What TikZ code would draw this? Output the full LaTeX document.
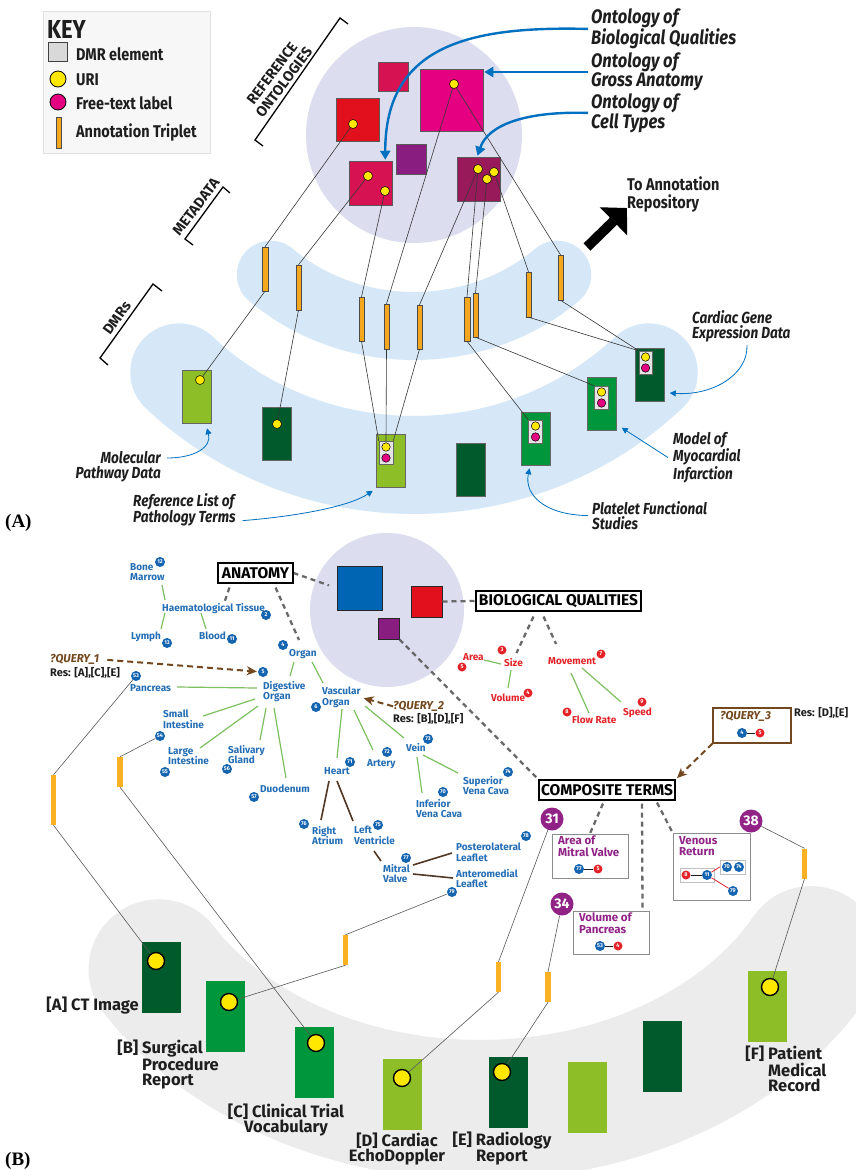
\documentclass[tikz,border=0pt]{standalone}
\usepackage{fontspec}
\setmainfont{Fira Sans}
\newfontfamily\cf[FakeStretch=0.85]{Fira Sans}
\newfontfamily\tms{Liberation Serif}
\usetikzlibrary{arrows.meta,calc}
\pgfdeclarelayer{bg}
\pgfdeclarelayer{ln}
\pgfsetlayers{bg,ln,main}
\newcommand{\fsz}[2]{\fontsize{#1}{#2}\selectfont}
\definecolor{lav}{RGB}{220,221,238}
\definecolor{lblue}{RGB}{214,232,247}
\definecolor{gband}{RGB}{236,236,236}
\definecolor{orng}{RGB}{245,168,30}
\definecolor{orngb}{RGB}{250,178,36}
\definecolor{ybl}{RGB}{255,232,0}
\definecolor{mag}{RGB}{228,0,128}
\definecolor{crim}{RGB}{214,18,82}
\definecolor{ored}{RGB}{226,16,28}
\definecolor{purp}{RGB}{138,30,128}
\definecolor{dmag}{RGB}{152,26,90}
\definecolor{lgreen}{RGB}{141,190,40}
\definecolor{dgreen}{RGB}{0,90,44}
\definecolor{mgreen}{RGB}{0,150,60}
\definecolor{arrblue}{RGB}{0,112,192}
\definecolor{anblue}{RGB}{36,110,182}
\definecolor{numblue}{RGB}{20,100,176}
\definecolor{qred}{RGB}{228,35,40}
\definecolor{tgreen}{RGB}{125,192,95}
\definecolor{tbrown}{RGB}{80,56,36}
\definecolor{qbrown}{RGB}{115,72,30}
\definecolor{dgray}{RGB}{105,105,105}
\definecolor{lnk}{RGB}{55,55,55}
\definecolor{txt}{RGB}{30,30,30}
\definecolor{bsqc}{RGB}{0,102,180}
\definecolor{cpurp}{RGB}{145,35,135}
\begin{document}
\begin{tikzpicture}[x=1pt,y=-1pt,
 sq/.style={draw=black!65,line width=0.5pt,inner sep=0pt},
 trip/.style={draw=black!70,line width=0.4pt,fill=orng,minimum width=5.5pt,inner sep=0pt},
 tripb/.style={fill=orngb,minimum width=5.5pt,minimum height=30pt,inner sep=0pt},
 dmr/.style={draw=black!60,line width=0.5pt,minimum width=29pt,minimum height=53pt,inner sep=0pt},
 dmrb/.style={minimum width=39pt,minimum height=71pt,inner sep=0pt},
 uri/.style={circle,draw=black,line width=0.5pt,fill=ybl,minimum size=9pt,inner sep=0pt},
 ftl/.style={circle,draw=black,line width=0.5pt,fill=mag,minimum size=9pt,inner sep=0pt},
 inbox/.style={draw=black!60,fill=black!10,line width=0.5pt,minimum width=14pt,minimum height=23pt,inner sep=0pt},
 urib/.style={circle,draw=black,line width=1.4pt,fill=ybl,minimum size=17pt,inner sep=0pt},
 lk/.style={draw=lnk,line width=0.6pt},
 lkb/.style={draw=black!65,line width=0.6pt},
 oarr/.style={draw=arrblue,line width=2.4pt,-{Triangle[length=9pt,width=10pt]}},
 larr/.style={draw=arrblue,line width=0.8pt,-{Triangle[length=6pt,width=6pt]}},
 keyl/.style={font={\cf\fsz{17}{17}\bfseries},anchor=west,inner sep=0pt,text=txt},
 ontl/.style={font={\cf\fsz{19.5}{18}\bfseries\itshape},align=left,anchor=west,inner sep=0pt,text=txt},
 itl/.style={font={\cf\fsz{16}{15.5}\bfseries\itshape},inner sep=0pt,text=txt},
 brk/.style={font={\fsz{14.5}{15}\bfseries},align=center,inner sep=0pt,text=txt},
 hbox/.style={draw=black,line width=1.1pt,fill=white,font={\fsz{15.5}{16}\bfseries},inner sep=0pt,minimum height=20pt},
 tb/.style={font={\fsz{10}{10.5}\bfseries},text=anblue,inner sep=0pt,align=left,anchor=north west},
 tr/.style={font={\fsz{10}{10.5}\bfseries},text=qred,inner sep=0pt,align=left,anchor=north west},
 nb/.style={circle,fill=numblue,text=white,inner sep=0pt,minimum size=10pt,font={\fsz{5.5}{5.5}\bfseries}},
 nr/.style={circle,fill=qred,text=white,inner sep=0pt,minimum size=9pt,font={\fsz{5.5}{5.5}\bfseries}},
 tg/.style={draw=tgreen,line width=1.2pt},
 tbr/.style={draw=tbrown,line width=1.6pt},
 dsh/.style={draw=dgray,line width=2.3pt,dash pattern=on 5pt off 4pt},
 qarr/.style={draw=qbrown,line width=2pt,dash pattern=on 6pt off 4pt,-{Stealth[length=10pt,width=9pt,inset=3pt]}},
 qt/.style={font={\fsz{11.5}{12}\bfseries\itshape},text=qbrown,inner sep=0pt,anchor=north west},
 rs/.style={font={\fsz{11}{12}\bfseries},text=txt,inner sep=0pt,anchor=north west},
 cpt/.style={font={\fsz{11.5}{11.5}\bfseries},text=cpurp,align=left,inner sep=0pt,anchor=north west},
 cbox/.style={draw=black!45,line width=1pt,fill=white,inner sep=0pt},
 bigc/.style={circle,fill=cpurp,text=white,font={\fsz{14}{14}\bfseries},minimum size=23pt,inner sep=0pt},
 elab/.style={font={\fsz{16.5}{15}\bfseries},text=txt,inner sep=0pt},
]
\useasboundingbox (0,0) rectangle (855,1170);

\begin{pgfonlayer}{bg}
\fill[white] (0,0) rectangle (855,1170);
% ---------- panel A backgrounds
\draw[lblue,line width=98pt,line cap=round] plot[domain=46:134,samples=90] ({414+338*cos(\x)},{135+330*sin(\x)});
\draw[lblue,line width=68pt,line cap=round] plot[domain=47:133,samples=70] ({414+210*cos(\x)},{135+191*sin(\x)});
\fill[lav] (414,135) circle[radius=108pt];
% ---------- panel B backgrounds
\draw[gband,line width=140pt,line cap=round] plot[domain=28:149,samples=90] ({480+375*cos(\x)},{820+290*sin(\x)});
\fill[lav] (387,610) circle[radius=77pt];
% ontology squares A
\node[sq,fill=crim,minimum width=30pt,minimum height=29pt] (s1) at (393,76.5) {};
\node[sq,fill=mag,minimum width=63pt,minimum height=62pt] (s2) at (451.5,100) {};
\node[sq,fill=ored,minimum size=43pt] (s3) at (357.5,119.5) {};
\node[sq,fill=purp,minimum size=30pt] (s4) at (411,159) {};
\node[sq,fill=crim,minimum width=43pt,minimum height=44pt] (s5) at (370.5,183) {};
\node[sq,fill=dmag,minimum width=43pt,minimum height=44pt] (s6) at (478.5,179) {};
% triplets A
\node[trip,minimum height=44pt] (t1) at (265,269) {};
\node[trip,minimum height=45pt] (t2) at (298.5,287.5) {};
\node[trip,minimum height=44pt] (t3) at (361.5,319) {};
\node[trip,minimum height=45pt] (t4) at (386.5,326.5) {};
\node[trip,minimum height=44pt] (t5) at (419.5,327) {};
\node[trip,minimum height=44pt] (t6) at (467,319) {};
\node[trip,minimum height=44pt] (t7) at (475.5,315) {};
\node[trip,minimum height=45pt] (t8) at (528.5,294.5) {};
\node[trip,minimum height=45pt] (t9) at (560.5,277.5) {};
% DMR elements A
\node[dmr,fill=lgreen] (d1) at (197,396.5) {};
\node[dmr,fill=dgreen] (d2) at (276.5,434) {};
\node[dmr,fill=lgreen] (d3) at (390.5,461) {};
\node[dmr,fill=dgreen] (d4) at (470.5,470) {};
\node[dmr,fill=mgreen] (d5) at (535.5,438.5) {};
\node[dmr,fill=mgreen] (d6) at (602,404) {};
\node[dmr,fill=dgreen] (d7) at (650,375) {};
\node[inbox] (d3in) at (386,452.5) {};
\node[inbox] (d5in) at (535.5,431.5) {};
\node[inbox] (d6in) at (601.5,397.5) {};
\node[inbox,minimum width=13pt] (d7in) at (645.5,362.5) {};
% squares B
\node[sq,fill=bsqc,draw=black!85,line width=1pt,minimum width=45pt,minimum height=44pt] (bsq) at (359.5,588) {};
\node[sq,fill=ored,draw=black!85,line width=1pt,minimum size=31pt] (rsq) at (426.5,601.5) {};
\node[sq,fill=purp,draw=black!85,line width=1pt,minimum size=21pt] (psq) at (388.5,628.5) {};
% elements B
\node[dmrb,fill=dgreen] (eA) at (161.5,977) {};
\node[dmrb,fill=mgreen] (eB) at (225.5,1016) {};
\node[dmrb,fill=mgreen] (eC) at (314.5,1062.5) {};
\node[dmrb,fill=lgreen] (eD) at (402.5,1094) {};
\node[dmrb,fill=dgreen] (eE) at (508.5,1092.5) {};
\node[dmrb,fill=lgreen] (eX) at (587.5,1097.5) {};
\node[dmrb,fill=dgreen] (eY) at (662,1056.5) {};
\node[dmrb,fill=lgreen] (eF) at (767.5,1006.5) {};
% triplets B
\node[tripb,minimum height=50pt] (tb1) at (53.5,800) {};
\node[tripb] (tb2) at (120,772) {};
\node[tripb] (tb3) at (345.5,950) {};
\node[tripb] (tb4) at (498.5,977) {};
\node[tripb] (tb5) at (548,987) {};
\node[tripb] (tb6) at (804.5,863.5) {};
\end{pgfonlayer}

% ================= PANEL A =================
% key
\node[draw=black!12,fill=black!3,line width=0.8pt,minimum width=167pt,minimum height=142pt,inner sep=0pt,anchor=north west] (keybox) at (43,11) {};
\node[font={\cf\fsz{26}{26}\bfseries},inner sep=0pt,anchor=west,text=txt] (keyt) at (47,29) {KEY};
\node[sq,fill=black!15,draw=black!75,line width=0.8pt,minimum size=19pt] (kdmr) at (58,52) {};
\node[keyl] (kdmrt) at (76,54) {DMR element};
\node[uri,minimum size=16pt,line width=0.8pt] (kuri) at (58,79) {};
\node[keyl] (kurit) at (76,80) {URI};
\node[ftl,minimum size=16pt,line width=0.8pt] (kftl) at (58,102) {};
\node[keyl] (kftlt) at (76,103) {Free-text label};
\node[trip,minimum height=31pt] (ktrip) at (58.5,132.5) {};
\node[keyl] (ktript) at (76,132) {Annotation Triplet};

% brackets
\draw[line width=1.3pt] (263,146) -- (255,140) -- (340,18) -- (348,24);
\node[brk,rotate=53] (refo) at (278,78) {REFERENCE\\ONTOLOGIES};
\draw[line width=1.3pt] (193,245) -- (185,239) -- (223,187) -- (230,193);
\node[brk,rotate=53] (meta) at (196,207) {METADATA};
\draw[line width=1.3pt] (108,365) -- (100,358) -- (153,284) -- (162,291);
\node[brk,rotate=54] (dmrs) at (117,318) {DMRs};

% dots A
\node[uri] (s2d) at (454,84) {};
\node[uri] (s3d) at (353,124) {};
\node[uri] (s5a) at (368,176) {};
\node[uri] (s5b) at (385,191) {};
\node[uri] (s6a) at (478,169) {};
\node[uri] (s6b) at (494,172) {};
\node[uri] (s6c) at (487,179) {};
\node[uri] (d1d) at (200,380) {};
\node[uri] (d2d) at (277,424) {};
\node[uri,minimum size=8.5pt] (d3y) at (386,447) {};
\node[ftl,minimum size=8.5pt] (d3m) at (386,458) {};
\node[uri,minimum size=8.5pt] (d5y) at (535.5,426) {};
\node[ftl,minimum size=8.5pt] (d5m) at (535.5,437) {};
\node[uri,minimum size=8.5pt] (d6y) at (601.5,392) {};
\node[ftl,minimum size=8.5pt] (d6m) at (601.5,403) {};
\node[uri,minimum size=8.5pt] (d7y) at (645.5,357) {};
\node[ftl,minimum size=8.5pt] (d7m) at (645.5,368) {};

% ontology labels and arrows
\node[ontl] (obq) at (591,29) {Ontology of\\Biological Qualities};
\node[ontl] (oga) at (591,72) {Ontology of\\Gross Anatomy};
\node[ontl] (oct) at (591,113) {Ontology of\\Cell Types};
\draw[oarr,shorten <=3pt] (obq.west) .. controls (470,26) and (385,45) .. ($(s5.north east)+(-7,-1)$);
\draw[oarr,shorten <=3pt,shorten >=1pt] (oga.west) -- (s2.east |- oga.west);
\draw[oarr,shorten <=3pt] (oct.west) .. controls (525,111) and (488,125) .. ($(s6.north)+(-1,-1)$);

% to annotation repository
\node[font={\cf\fsz{17}{18}\bfseries},align=left,anchor=north west,inner sep=0pt,text=txt] (tar) at (627,177) {To Annotation\\Repository};
\coordinate (repS) at (587,247);
\coordinate (repE) at (627,208);
\draw[line width=10pt,-{Triangle[length=19pt,width=38pt]}] (repS) -- (repE);

% labels of DMRs A
\node[itl,anchor=north east,align=right] (mol) at (161,451) {Molecular\\Pathway Data};
\node[itl,anchor=north west,align=left] (refl) at (133,493) {Reference List of\\Pathology Terms};
\node[itl,anchor=north west,align=left] (cge) at (692,310) {Cardiac Gene\\Expression Data};
\node[itl,anchor=north west,align=left] (mmi) at (673,432) {Model of\\Myocardial\\Infarction};
\node[itl,anchor=north west,align=left] (pfs) at (592,501) {Platelet Functional\\Studies};
\draw[larr] ($(mol.north east)+(6,7)$) .. controls (195,458) and (212,447) .. ($(d1.south)+(10,5)$);
\draw[larr] ($(refl.south east)+(7,-6)$) .. controls (300,516) and (350,506) .. ($(d3.south west)+(-3,3)$);
\draw[larr] ($(cge.south west)+(55,3)$) .. controls (748,375) and (712,396) .. ($(d7.east)+(5,18)$);
\draw[larr] ($(mmi.west)+(-5,0)$) -- ($(d6.south east)+(5,-3)$);
\draw[larr] ($(pfs.west)+(-4,0)$) .. controls (545,515) and (524,495) .. ($(d5.south)+(-6,3)$);

\node[font={\tms\fsz{19}{19}\bfseries},anchor=west,inner sep=0pt] (labA) at (5,523) {(A)};

% ================= PANEL B =================
\node[hbox,minimum width=75pt] (anat) at (255.5,573) {ANATOMY};
\node[hbox,minimum width=165pt] (bq) at (558.5,601) {BIOLOGICAL QUALITIES};
\node[hbox,minimum width=136pt] (comp) at (607,790) {COMPOSITE TERMS};

% anatomy tree
\node[tb] (bm) at (130,563) {Bone\\Marrow};
\node[tb] (haem) at (162,603) {Haematological Tissue};
\node[tb] (lymph) at (131,632) {Lymph};
\node[tb] (blood) at (199,632) {Blood};
\node[tb] (organ) at (289,649) {Organ};
\node[tb] (dig) at (263,681) {Digestive\\Organ};
\node[tb] (vasc) at (322,687) {Vascular\\Organ};
\node[tb] (panc) at (130,684) {Pancreas};
\node[tb] (si) at (163,710) {Small\\Intestine};
\node[tb] (li) at (168,747) {Large\\Intestine};
\node[tb] (sg) at (228,745) {Salivary\\Gland};
\node[tb] (duo) at (260,785) {Duodenum};
\node[tb] (heart) at (324,767) {Heart};
\node[tb] (artery) at (367,759) {Artery};
\node[tb] (vein) at (406,743) {Vein};
\node[tb] (svc) at (463,776) {Superior\\Vena Cava};
\node[tb] (ivc) at (416,799) {Inferior\\Vena Cava};
\node[tb] (ra) at (312,826) {Right\\Atrium};
\node[tb] (lv) at (354,826) {Left\\Ventricle};
\node[tb] (mv) at (383,864) {Mitral\\Valve};
\node[tb] (pl) at (456,843) {Posterolateral\\Leaflet};
\node[tb] (am) at (456,869) {Anteromedial\\Leaflet};
\node[nb] (n12) at (160,562) {12};
\node[nb] (n2) at (266,615) {2};
\node[nb] (n13) at (167,643) {13};
\node[nb] (n11) at (232,639) {11};
\node[nb] (n4) at (283,645) {4};
\node[nb] (n5) at (263,672) {5};
\node[nb] (n6) at (316,707) {6};
\node[nb] (n53) at (136,676) {53};
\node[nb] (n54) at (160,736) {54};
\node[nb] (n55) at (165,772) {55};
\node[nb] (n56) at (227,769) {56};
\node[nb] (n57) at (254,797) {57};
\node[nb] (n71) at (350,762) {71};
\node[nb] (n72) at (387,752) {72};
\node[nb] (n73) at (428,739) {73};
\node[nb] (n74) at (508,772) {74};
\node[nb] (n70) at (443,792) {70};
\node[nb] (n76) at (304,824) {76};
\node[nb] (n75) at (378,825) {75};
\node[nb] (n77) at (406,858) {77};
\node[nb] (n78) at (526,836) {78};
\node[nb] (n79) at (452,892) {79};

% qualities tree
\node[tr] (area) at (463,653) {Area};
\node[tr] (size) at (504,658) {Size};
\node[tr] (volume) at (491,694) {Volume};
\node[tr] (movement) at (548,657) {Movement};
\node[tr] (flow) at (572,716) {Flow Rate};
\node[tr] (speed) at (623,708) {Speed};
\node[nr] (r3) at (502,650) {3};
\node[nr] (r5) at (462,667) {5};
\node[nr] (r4) at (528,693) {4};
\node[nr] (r7) at (601,654) {7};
\node[nr] (r8) at (567,712) {8};
\node[nr] (r9) at (642,702) {9};

% queries
\node[qt] (q1) at (50,654) {?QUERY\_1};
\node[rs] (q1r) at (50,667) {Res: [A],[C],[E]};
\node[qt] (q2) at (393,701) {?QUERY\_2};
\node[rs] (q2r) at (393,713) {Res: [B],[D],[F]};
\node[draw=qbrown,line width=1.2pt,fill=white,minimum width=78pt,minimum height=35pt,inner sep=0pt] (q3) at (752,725.5) {};
\node[qt] (q3t) at (720,711) {?QUERY\_3};
\node[nb] (q3a) at (742,733) {4};
\node[nr] (q3b) at (760,733) {5};
\draw[line width=1pt,draw=txt] (q3a) -- (q3b);
\node[rs] (q3r) at (794,707) {Res: [D],[E]};
\draw[qarr,shorten <=8pt,shorten >=1pt] (q1.east) -- (n5);
\draw[qarr,shorten >=3pt] (q2.west) -- (vasc.east);
\draw[qarr,shorten >=2pt] (q3.south west) -- (comp.north east);

% composite terms
\node[bigc] (c31) at (552,819) {31};
\node[bigc] (c34) at (562,904) {34};
\node[bigc] (c38) at (751,821) {38};
\node[cbox,minimum width=76pt,minimum height=44pt] (amv) at (590,856) {};
\node[cpt] (amvt) at (558,836) {Area of\\Mitral Valve};
\node[nb] (a77) at (579,869) {77};
\node[nr] (a5) at (598,869) {5};
\draw[line width=1pt,draw=txt] (a77) -- (a5);
\node[cbox,minimum width=76pt,minimum height=43pt] (vp) at (611,932.5) {};
\node[cpt] (vpt) at (579,913) {Volume of\\Pancreas};
\node[nb] (v53) at (600,946) {53};
\node[nr] (v4) at (618,946) {4};
\draw[line width=1pt,draw=txt] (v53) -- (v4);
\node[cbox,minimum width=77pt,minimum height=67pt] (vr) at (711.5,866.5) {};
\node[cpt] (vrt) at (679,836) {Venous\\Return};
\node[draw=black!25,line width=0.6pt,minimum width=34pt,minimum height=14pt,inner sep=0pt] (vrb1) at (697,875) {};
\node[draw=black!25,line width=0.6pt,minimum width=25pt,minimum height=14pt,inner sep=0pt] (vrb2) at (732.5,867) {};
\node[nr] (vr8) at (686,875) {8};
\node[nb] (vr11) at (707,875) {11};
\node[nb] (vr70) at (727,867) {70};
\node[nb] (vr74) at (739,867) {74};
\node[nb] (vr79) at (733,891) {79};
\draw[line width=1pt,draw=txt] (vr8) -- (vr11);
\draw[line width=0.8pt,draw=qred] (vr11) -- (vrb2.west);
\draw[line width=0.8pt,draw=qred] (vr11) -- (vr79);

% DMR dots B
\node[urib] (dA) at (156,961) {};
\node[urib] (dB) at (229,1002) {};
\node[urib] (dC) at (316,1043) {};
\node[urib] (dD) at (402,1078) {};
\node[urib] (dE) at (502,1072) {};
\node[urib] (dF) at (770,987) {};

% element labels B
\node[elab,anchor=east] (lA) at (139,1006) {[A] CT Image};
\node[elab,anchor=north west,align=left] (lB) at (142,1040) {\llap{[B] }Surgical\\Procedure\\Report};
\node[elab,anchor=north,align=center] (lC) at (286,1104) {[C] Clinical Trial\\Vocabulary};
\node[elab,anchor=north,align=center] (lD) at (397,1133) {[D] Cardiac\\EchoDoppler};
\node[elab,anchor=north,align=center] (lE) at (502,1132) {[E] Radiology\\Report};
\node[elab,anchor=north west,align=left] (lF) at (768,1046) {\llap{[F] }Patient\\Medical\\Record};

\node[font={\tms\fsz{19}{19}\bfseries},anchor=west,inner sep=0pt] (labB) at (5,1161) {(B)};

% ================= LINES =================
\begin{pgfonlayer}{ln}
% panel A links
\draw[lk] (s3d) -- (t1.north);
\draw[lk] (t1.south) -- (d1d);
\draw[lk] (s5a) -- (t2.north);
\draw[lk] (t2.south) -- (d2d);
\draw[lk] (s5b) -- (t3.north);
\draw[lk] (t3.south) -- (d3in.north west);
\draw[lk] (s2d) -- (t4.north);
\draw[lk] (t4.south) -- (d3in.north);
\draw[lk] (s6a) -- (t5.north);
\draw[lk] (t5.south) -- (d3in.north east);
\draw[lk] (s6a) -- (t6.north);
\draw[lk] (t6.south) -- (d5in.north west);
\draw[lk] (s6c) -- (t7.north);
\draw[lk] (t7.south) -- (d6in.north west);
\draw[lk] (s6b) -- (t8.north);
\draw[lk] (t8.south) -- (d7in.north west);
\draw[lk] (s2d) -- (t9.north);
\draw[lk] (t9.south) -- (d7in.north west);
% panel B links
\draw[lkb] (n53) -- (tb1.north);
\draw[lkb] (tb1.south) -- (dA);
\draw[lkb] (n54) -- (tb2.north);
\draw[lkb] (tb2.south) -- (dC);
\draw[lkb] (n79) -- (tb3.north);
\draw[lkb] (tb3.south) -- (dB);
\draw[lkb] (c31) -- (tb4.north);
\draw[lkb] (tb4.south) -- (dD);
\draw[lkb] (c34) -- (tb5.north);
\draw[lkb] (tb5.south) -- (dE);
\draw[lkb] (c38) -- (tb6.north);
\draw[lkb] (tb6.south) -- (dF);
% dashed ontology links
\draw[dsh,shorten >=8pt] (anat.east) -- (bsq.west);
\draw[dsh] ($(anat.south west)+(12,4)$) -- ($(haem.north)+(11,-1)$);
\draw[dsh] ($(anat.south east)+(-18,4)$) -- ($(organ.north west)+(10,-9)$);
\draw[dsh] (rsq.east) -- (bq.west);
\draw[dsh] ($(bq.south)+(-25,5)$) -- ($(size.north)+(3,-5)$);
\draw[dsh] ($(bq.south)+(-15,5)$) -- ($(movement.north)+(-16,-13)$);
\draw[dsh] (psq.south east) -- (comp.north west);
\draw[dsh] ($(comp.south)+(-4,3)$) -- (amv.north);
\draw[dsh] ($(comp.south)+(35,3)$) -- ($(vp.north east)+(-7,0)$);
\draw[dsh] ($(comp.south)+(50,2)$) -- (vr.north west);
% anatomy tree edges
\draw[tg] (162,585) -- (165,600);
\draw[tg] (165,613) -- (161,629);
\draw[tg] (201,613) -- (206,629);
\draw[tg] (294,662) -- (290,676);
\draw[tg] (312,662) -- (323,683);
\draw[tg] (177,687) -- (257,688);
\draw[tg] (203,716) -- (255,699);
\draw[tg] (200,748) -- (258,706);
\draw[tg] (260,740) -- (266,708);
\draw[tg] (286,778) -- (274,708);
\draw[tg] (342,709) -- (337,758);
\draw[tg] (354,710) -- (373,750);
\draw[tg] (365,706) -- (404,738);
\draw[tg] (423,755) -- (458,773);
\draw[tg] (417,757) -- (422,793);
\draw[tg] (484,660) -- (501,664);
\draw[tg] (511,670) -- (508,688);
\draw[tg] (571,673) -- (589,713);
\draw[tg] (582,668) -- (621,702);
\draw[tbr] (329,781) -- (321,820);
\draw[tbr] (337,781) -- (353,821);
\draw[tbr] (374,851) -- (381,861);
\draw[tbr] (413,865) -- (452,853);
\draw[tbr] (413,874) -- (453,878);
\end{pgfonlayer}
\end{tikzpicture}
\end{document}
